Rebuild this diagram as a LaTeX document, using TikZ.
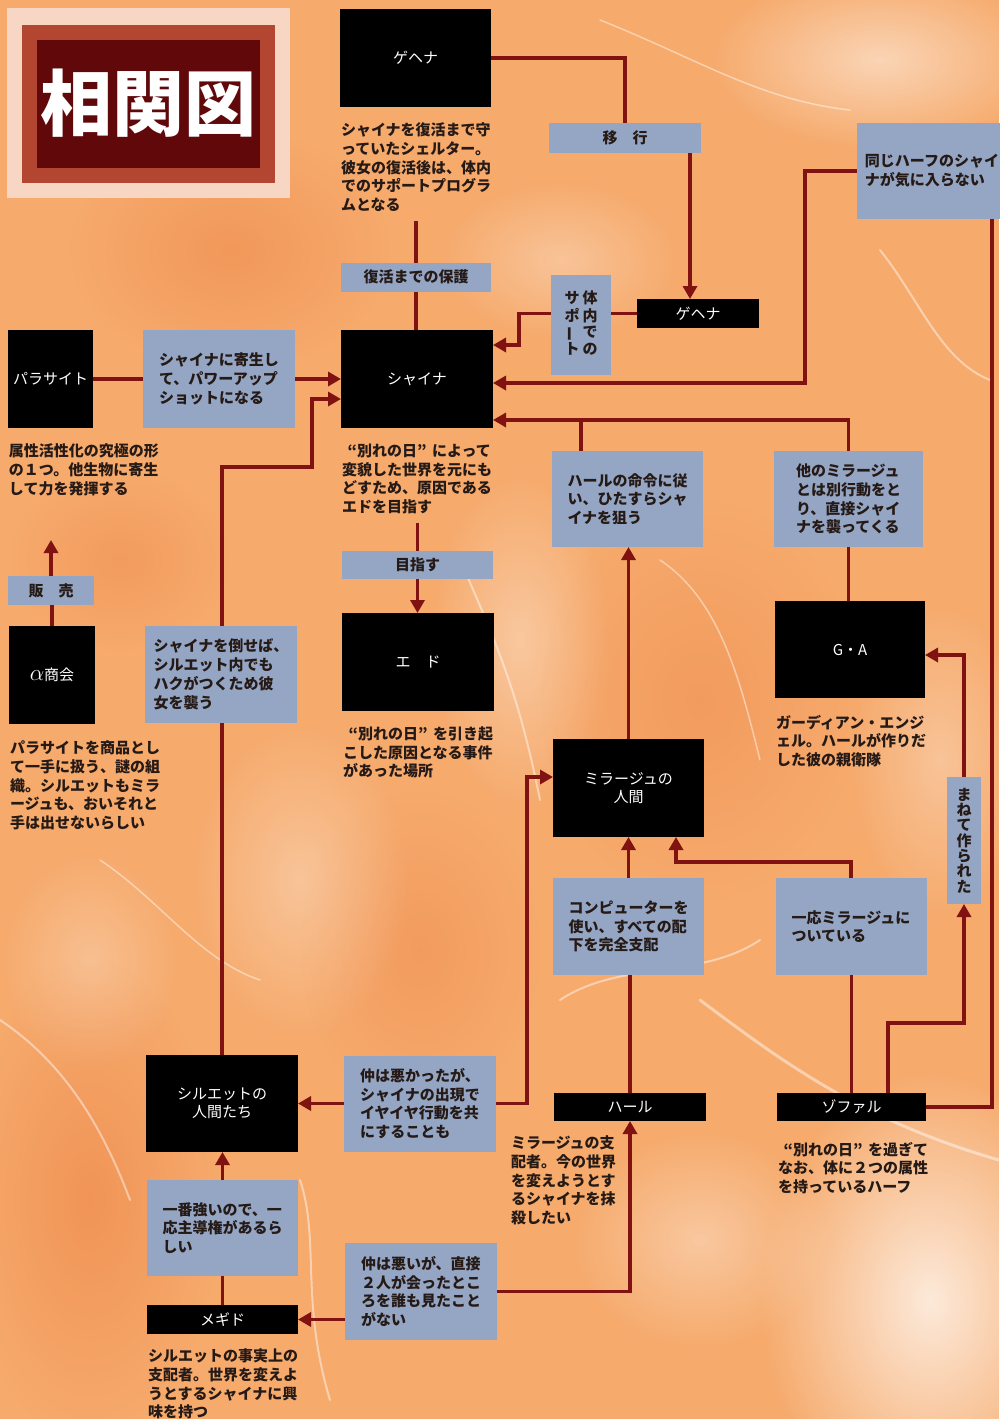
\documentclass[tikz,border=0pt]{standalone}
\usepackage{fontspec}
\setmainfont{Noto Sans CJK JP}
\usetikzlibrary{arrows.meta,fadings}
\definecolor{bgorange}{RGB}{246,170,108}
\definecolor{deeporange}{RGB}{238,134,74}
\definecolor{boxblue}{RGB}{148,166,196}
\definecolor{linered}{RGB}{128,18,18}
\definecolor{txtdark}{RGB}{38,26,22}
\definecolor{titlepale}{RGB}{248,214,196}
\definecolor{titlemid}{RGB}{178,70,48}
\definecolor{titledark}{RGB}{96,8,10}
\newcommand\jlq{\makebox[15pt][r]{“}}
\newcommand\jrq{\makebox[15pt][l]{”}}
\pgfdeclarelayer{back}
\pgfdeclarelayer{lines}
\pgfsetlayers{back,lines,main}
\tikzfading[name=softblob, inner color=transparent!0, outer color=transparent!100]
\tikzset{
  blk/.style={fill=black, text=white, font=\fontsize{15}{18}\selectfont, align=center, inner sep=0pt, outer sep=0pt},
  bbox/.style={fill=boxblue, text=txtdark, font=\bfseries\fontsize{15}{18.8}\selectfont, align=left, inner sep=0pt, outer sep=0pt},
  desc/.style={text=txtdark, font=\bfseries\fontsize{15}{18.6}\selectfont, align=left, inner sep=0pt, outer sep=0pt, anchor=north west},
  conn/.style={draw=linered, line width=3.4pt},
  arr/.style={conn, -{Triangle[length=13pt,width=14pt]}},
  blobw/.style={fill=white, path fading=softblob},
  blobo/.style={fill=deeporange, path fading=softblob},
  vein/.style={draw=white, opacity=0.45, line cap=round}
}
\begin{document}
\begin{tikzpicture}[x=1pt,y=-1pt]
\useasboundingbox (0,0) rectangle (999,1419);
\begin{pgfonlayer}{back}
\clip (0,0) rectangle (999,1419);
\fill[bgorange] (0,0) rectangle (999,1419);
\fill[blobo, opacity=0.6] (90,1200) ellipse (130 and 240);
\fill[blobo, opacity=0.5] (230,250) ellipse (160 and 120);
\fill[blobo, opacity=0.4] (700,700) ellipse (160 and 200);
\fill[blobo, opacity=0.4] (420,950) ellipse (120 and 160);
\fill[blobo, opacity=0.4] (120,560) ellipse (110 and 90);
\fill[blobw, opacity=0.75] (930,1300) ellipse (170 and 230);
\fill[blobw, opacity=0.5] (880,60) ellipse (170 and 90);
\fill[blobw, opacity=0.35] (520,640) ellipse (90 and 170);
\fill[blobw, opacity=0.35] (700,1240) ellipse (130 and 110);
\fill[blobw, opacity=0.3] (300,880) ellipse (110 and 160);
\fill[blobw, opacity=0.3] (940,760) ellipse (90 and 160);
\fill[blobw, opacity=0.3] (560,260) ellipse (120 and 80);
\fill[blobw, opacity=0.25] (90,960) ellipse (90 and 110);
\draw[vein, line width=3pt] (700,1000) .. controls (780,1060) and (860,1120) .. (999,1160);
\draw[vein, line width=2pt] (560,1000) .. controls (620,960) and (700,980) .. (760,940);
\draw[vein, line width=2pt] (460,560) .. controls (500,650) and (520,700) .. (540,800);
\draw[vein, line width=2pt] (300,1180) .. controls (320,1240) and (300,1300) .. (330,1400);
\draw[vein, line width=2pt] (0,1020) .. controls (60,1060) and (100,1120) .. (130,1200);
\draw[vein, line width=1.5pt] (600,20) .. controls (700,60) and (760,100) .. (850,110);
\draw[vein, line width=1.5pt] (660,560) .. controls (720,600) and (740,680) .. (760,760);
\draw[vein, line width=2pt] (880,250) .. controls (920,300) and (940,360) .. (990,380);
\draw[vein, line width=1.5pt] (100,860) .. controls (160,900) and (200,960) .. (260,980);
\end{pgfonlayer}

% title
\fill[titlepale] (7,8) rectangle (290,198);
\fill[titlemid] (22,25) rectangle (275,183);
\fill[titledark] (37,40) rectangle (260,168);
\node[text=white, font=\bfseries\fontsize{72}{72}\selectfont, inner sep=0pt] (title) at (148,103) {相関図};

% nodes
\node[blk, minimum width=151pt, minimum height=98pt] (gehena) at (415.5,58) {ゲヘナ};
\node[desc] (dGehena) at (341,123) {シャイナを復活まで守\\っていたシェルター。\\彼女の復活後は、体内\\でのサポートプログラ\\ムとなる};
\node[bbox, minimum width=150pt, minimum height=29pt] (hogo) at (416,277) {復活までの保護};
\node[blk, minimum width=152pt, minimum height=98pt] (shaina) at (417,379) {シャイナ};
\node[blk, minimum width=85pt, minimum height=98pt] (parasite) at (50.5,379) {パラサイト};
\node[bbox, minimum width=152pt, minimum height=98pt] (bParasite) at (219,379) {シャイナに寄生し\\て、パワーアップ\\ショットになる};
\node[desc] (dParasite) at (9,444) {属性活性化の究極の形\\の１つ。他生物に寄生\\して力を発揮する};
\node[desc] (dShaina) at (342,444) {\jlq 別れの日\jrq によって\\変貌した世界を元にも\\どすため、原因である\\エドを目指す};
\node[bbox, minimum width=151pt, minimum height=28pt] (mezasu) at (417.5,565) {目指す};
\node[blk, minimum width=152pt, minimum height=98pt] (edo) at (418,662) {エ　ド};
\node[desc] (dEdo) at (343,727) {\jlq 別れの日\jrq を引き起\\こした原因となる事件\\があった場所};
\node[bbox, minimum width=86pt, minimum height=29pt] (hanbai) at (51,590.5) {販　売};
\node[blk, minimum width=86pt, minimum height=98pt] (alpha) at (52,675) {\scalebox{1.6}{$\alpha$}商会};
\node[desc] (dAlpha) at (10,741) {パラサイトを商品とし\\て一手に扱う、謎の組\\織。シルエットもミラ\\ージュも、おいそれと\\手は出せないらしい};
\node[bbox, minimum width=152pt, minimum height=97pt] (bTaoseba) at (221,674.5) {シャイナを倒せば、\\シルエット内でも\\ハクがつくため彼\\女を襲う};
\node[bbox, minimum width=152pt, minimum height=30pt] (ikou) at (625,138) {移　行};
\node[blk, minimum width=122pt, minimum height=29pt] (gehena2) at (698,313.5) {ゲヘナ};
\node[bbox, minimum width=60pt, minimum height=100pt, font=\bfseries\fontsize{15}{16.5}\selectfont] (bSupport) at (581,325) {\begin{tabular}{@{}c@{\hspace{3pt}}c@{}}サ&体\\ポ&内\\\rotatebox[origin=c]{90}{ー}&で\\ト&の\end{tabular}};
\node[bbox, minimum width=150pt, minimum height=96pt] (bOnaji) at (932,171) {同じハーフのシャイ\\ナが気に入らない};
\node[bbox, minimum width=151pt, minimum height=96pt] (bHaruMeirei) at (627.5,499) {ハールの命令に従\\い、ひたすらシャ\\イナを狙う};
\node[bbox, minimum width=149pt, minimum height=96pt] (bHokano) at (848.5,499) {他のミラージュ\\とは別行動をと\\り、直接シャイ\\ナを襲ってくる};
\node[blk, minimum width=150pt, minimum height=97pt] (ga) at (850,649.5) {G・A};
\node[desc] (dGA) at (776,715) {ガーディアン・エンジ\\ェル。ハールが作りだ\\した彼の親衛隊};
\node[bbox, minimum width=34pt, minimum height=127pt, align=center, font=\bfseries\fontsize{15}{15.3}\selectfont] (bManete) at (964,840.5) {ま\\ね\\て\\作\\ら\\れ\\た};
\node[blk, minimum width=151pt, minimum height=98pt] (mirage) at (628.5,788) {ミラージュの\\人間};
\node[bbox, minimum width=151pt, minimum height=97pt] (bComputer) at (628.5,926.5) {コンピューターを\\使い、すべての配\\下を完全支配};
\node[bbox, minimum width=151pt, minimum height=97pt] (bIchiou) at (851,926.5) {一応ミラージュに\\ついている};
\node[blk, minimum width=152pt, minimum height=28pt] (haru) at (630,1107) {ハール};
\node[blk, minimum width=149pt, minimum height=28pt] (zofaru) at (851.5,1107) {ゾファル};
\node[desc] (dHaru) at (511,1136) {ミラージュの支\\配者。今の世界\\を変えようとす\\るシャイナを抹\\殺したい};
\node[desc] (dZofaru) at (778,1142) {\jlq 別れの日\jrq を過ぎて\\なお、体に２つの属性\\を持っているハーフ};
\node[blk, minimum width=152pt, minimum height=97pt] (silhouette) at (222,1103.5) {シルエットの\\人間たち};
\node[bbox, minimum width=152pt, minimum height=96pt] (bNakaWaruKatta) at (420,1103.5) {仲は悪かったが、\\シャイナの出現で\\イヤイヤ行動を共\\にすることも};
\node[bbox, minimum width=151pt, minimum height=96pt] (bIchiban) at (222.5,1228) {一番強いので、一\\応主導権があるら\\しい};
\node[blk, minimum width=151pt, minimum height=29pt] (megido) at (222.5,1319.5) {メギド};
\node[bbox, minimum width=152pt, minimum height=97pt] (bNakaWarui) at (421,1291.5) {仲は悪いが、直接\\２人が会ったとこ\\ろを誰も見たこと\\がない};
\node[desc] (dMegido) at (148,1349) {シルエットの事実上の\\支配者。世界を変えよ\\うとするシャイナに興\\味を持つ};

% bend points and free ends
\coordinate (gTop) at (416,221);
\coordinate (sTop) at (417.5,523);
\coordinate (pEnd) at (51,540);
\coordinate (s1) at (519,345);
\coordinate (s2) at (805,383);
\coordinate (s3) at (0,420);
\coordinate (s4) at (581,420);
\coordinate (s5) at (0,655);
\coordinate (s6) at (888,1023);
\coordinate (s7) at (676,862);
\coordinate (s8) at (992,0);
\coordinate (s9) at (527,777);
\coordinate (s10) at (312,467);
\coordinate (s11) at (0,399);
\coordinate (s12) at (690,0);

\begin{pgfonlayer}{lines}
\draw[conn] (gehena.east) -| (ikou.north);
\draw[arr] (ikou.south -| s12) -- (gehena2.north -| s12);
\draw[conn] (gTop) -- (hogo.north);
\draw[conn] (hogo.south) -- (hogo.south |- shaina.north);
\draw[conn] (gehena2.west) -- (bSupport.east |- gehena2.west);
\draw[arr] (bSupport.west |- gehena2.west) -| (s1) -- (s1 -| shaina.east);
\draw[arr] (bOnaji.west) -| (s2) -- (s2 -| shaina.east);
\draw[arr] (bHokano.north) |- (s3 -| shaina.east);
\draw[conn] (bHaruMeirei.north -| s4) -- (s4);
\draw[conn] (bHokano.south) -- (bHokano.south |- ga.north);
\draw[arr] (mirage.north) -- (mirage.north |- bHaruMeirei.south);
\draw[arr] (bManete.north) |- (s5 -| ga.east);
\draw[arr] (zofaru.north -| s6) -- (s6) -| (bManete.south);
\draw[conn] (zofaru.north) -- (zofaru.north |- bIchiou.south);
\draw[arr] (bIchiou.north) |- (s7) -- (s7 |- mirage.south);
\draw[arr] (bComputer.north) -- (bComputer.north |- mirage.south);
\draw[conn] (haru.north) -- (haru.north |- bComputer.south);
\draw[conn] (zofaru.east) -| (s8 |- bOnaji.south);
\draw[arr] (bNakaWarui.east) -| (haru.south);
\draw[arr] (bNakaWarui.west |- megido.east) -- (megido.east);
\draw[conn] (megido.north) -- (megido.north |- bIchiban.south);
\draw[arr] (bIchiban.north) -- (bIchiban.north |- silhouette.south);
\draw[arr] (bNakaWaruKatta.west) -- (bNakaWaruKatta.west -| silhouette.east);
\draw[arr] (bNakaWaruKatta.east) -| (s9) -- (s9 -| mirage.west);
\draw[arr] (silhouette.north) |- (s10) |- (s11 -| shaina.west);
\draw[conn] (parasite.east) -- (bParasite.west);
\draw[arr] (bParasite.east) -- (bParasite.east -| shaina.west);
\draw[conn] (alpha.north) -- (alpha.north |- hanbai.south);
\draw[arr] (hanbai.north) -- (pEnd);
\draw[conn] (sTop) -- (mezasu.north);
\draw[arr] (mezasu.south) -- (mezasu.south |- edo.north);
\end{pgfonlayer}
\end{tikzpicture}
\end{document}
